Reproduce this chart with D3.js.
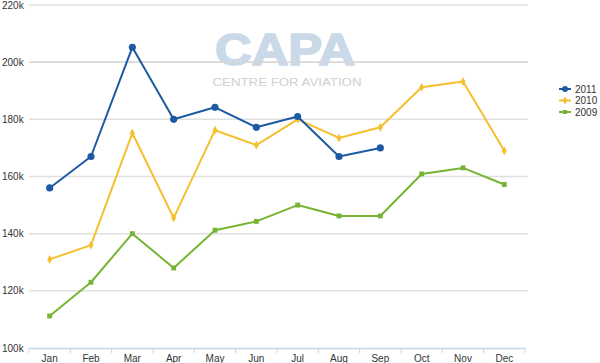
<!DOCTYPE html>
<html><head><meta charset="utf-8">
<script src="https://cdn.jsdelivr.net/npm/d3@7"></script>
<style>body{margin:0;background:#fff;}svg{display:block;font-family:"Liberation Sans",Arial,sans-serif;}</style>
</head><body>
<svg id="c" width="600" height="363"></svg>
<script>
const months = ["Jan","Feb","Mar","Apr","May","Jun","Jul","Aug","Sep","Oct","Nov","Dec"];
const s2011 = [156, 167, 205.2, 180, 184.2, 177.2, 181, 167, 170, null, null, null];
const s2010 = [131, 136, 175.2, 145.5, 176.2, 171, 180, 173.5, 177.2, 191.2, 193.2, 169];
const s2009 = [111.2, 123, 140, 128, 141.2, 144.3, 150, 146.2, 146.2, 160.9, 163, 157.2];
const yTicks = [100, 120, 140, 160, 180, 200, 220];
const seriesNames = ["2011", "2010", "2009"];
const colors = ["#1c5aa3", "#f4c030", "#78b433"];

const svg = d3.select("#c");
const x = d3.scaleBand().domain(months).range([29, 525]);
const y = d3.scaleLinear().domain([100, 220]).range([348, 5]);

// gridlines
svg.append("g").selectAll("line").data(yTicks.filter(d => d > 100)).join("line")
  .attr("x1", 29).attr("x2", 528).attr("y1", d => y(d)).attr("y2", d => y(d))
  .attr("stroke", "#e0e0e0").attr("stroke-width", 1.5);

// watermark
svg.append("text").text("CAPA").attr("x", 285).attr("y", 64.5).attr("text-anchor", "middle")
  .attr("font-family", "Liberation Sans, Arial, sans-serif")
  .attr("font-size", 44).attr("font-weight", "bold").attr("fill", "#c9d9e8")
  .attr("stroke", "#c9d9e8").attr("stroke-width", 1.6)
  .attr("textLength", 140).attr("lengthAdjust", "spacingAndGlyphs");
svg.append("text").text("CENTRE FOR AVIATION").attr("x", 287).attr("y", 85.5).attr("text-anchor", "middle")
  .attr("font-size", 11.5).attr("fill", "#d0d0d0")
  .attr("textLength", 149).attr("lengthAdjust", "spacingAndGlyphs");

// redraw 200k gridline over watermark
svg.append("line").attr("x1", 29).attr("x2", 528).attr("y1", y(200)).attr("y2", y(200))
  .attr("stroke", "#d6d6d6").attr("stroke-width", 1.2);

// y labels
svg.append("g").selectAll("text").data(yTicks).join("text")
  .attr("x", 2).attr("y", d => y(d) + 3.5).text(d => d + "k")
  .attr("font-size", 10).attr("fill", "#333");

// x axis
const xa = svg.append("g").attr("transform", "translate(0,348)")
  .call(d3.axisBottom(x).tickSize(0).tickPadding(7));
xa.select(".domain").attr("stroke", "#c5d6e6").attr("stroke-width", 1.5);
xa.selectAll("text").attr("font-size", 10).attr("fill", "#333").attr("font-family", "Liberation Sans, Arial, sans-serif");
svg.append("g").selectAll("line").data(d3.range(13)).join("line")
  .attr("x1", i => 29 + i * x.step()).attr("x2", i => 29 + i * x.step())
  .attr("y1", 348).attr("y2", 353).attr("stroke", "#c5d6e6").attr("stroke-width", 1);

const allSeries = [s2011, s2010, s2009];
const line = d3.line().defined(d => d.v != null).x(d => x(d.m) + x.bandwidth() / 2).y(d => y(d.v));

// draw order: 2009, 2010, 2011 on top
[2, 1, 0].forEach(i => {
  const data = months.map((m, j) => ({ m, v: allSeries[i][j] }));
  svg.append("path").datum(data).attr("d", line).attr("fill", "none")
    .attr("stroke", colors[i]).attr("stroke-width", 2).attr("stroke-linejoin", "round");
  const pts = data.filter(d => d.v != null);
  const g = svg.append("g");
  let sym;
  if (i === 0) sym = d3.symbol(d3.symbolCircle, 40);
  else if (i === 1) sym = d3.symbol(d3.symbolDiamond, 22);
  else sym = d3.symbol(d3.symbolSquare, 24);
  g.selectAll("path").data(pts).join("path")
    .attr("transform", d => `translate(${x(d.m) + x.bandwidth() / 2},${y(d.v)})`)
    .attr("d", sym).attr("fill", colors[i]);
});

// legend
const lg = svg.append("g");
seriesNames.forEach((n, i) => {
  const ly = 89 + i * 11.5;
  lg.append("line").attr("x1", 559).attr("x2", 571).attr("y1", ly).attr("y2", ly)
    .attr("stroke", colors[i]).attr("stroke-width", 2);
  let sym;
  if (i === 0) sym = d3.symbol(d3.symbolCircle, 28);
  else if (i === 1) sym = d3.symbol(d3.symbolDiamond, 18);
  else sym = d3.symbol(d3.symbolSquare, 16);
  lg.append("path").attr("transform", `translate(565,${ly})`).attr("d", sym).attr("fill", colors[i]);
  lg.append("text").attr("x", 575).attr("y", ly + 3.5).text(n).attr("font-size", 10).attr("fill", "#333");
});
</script>
</body></html>
